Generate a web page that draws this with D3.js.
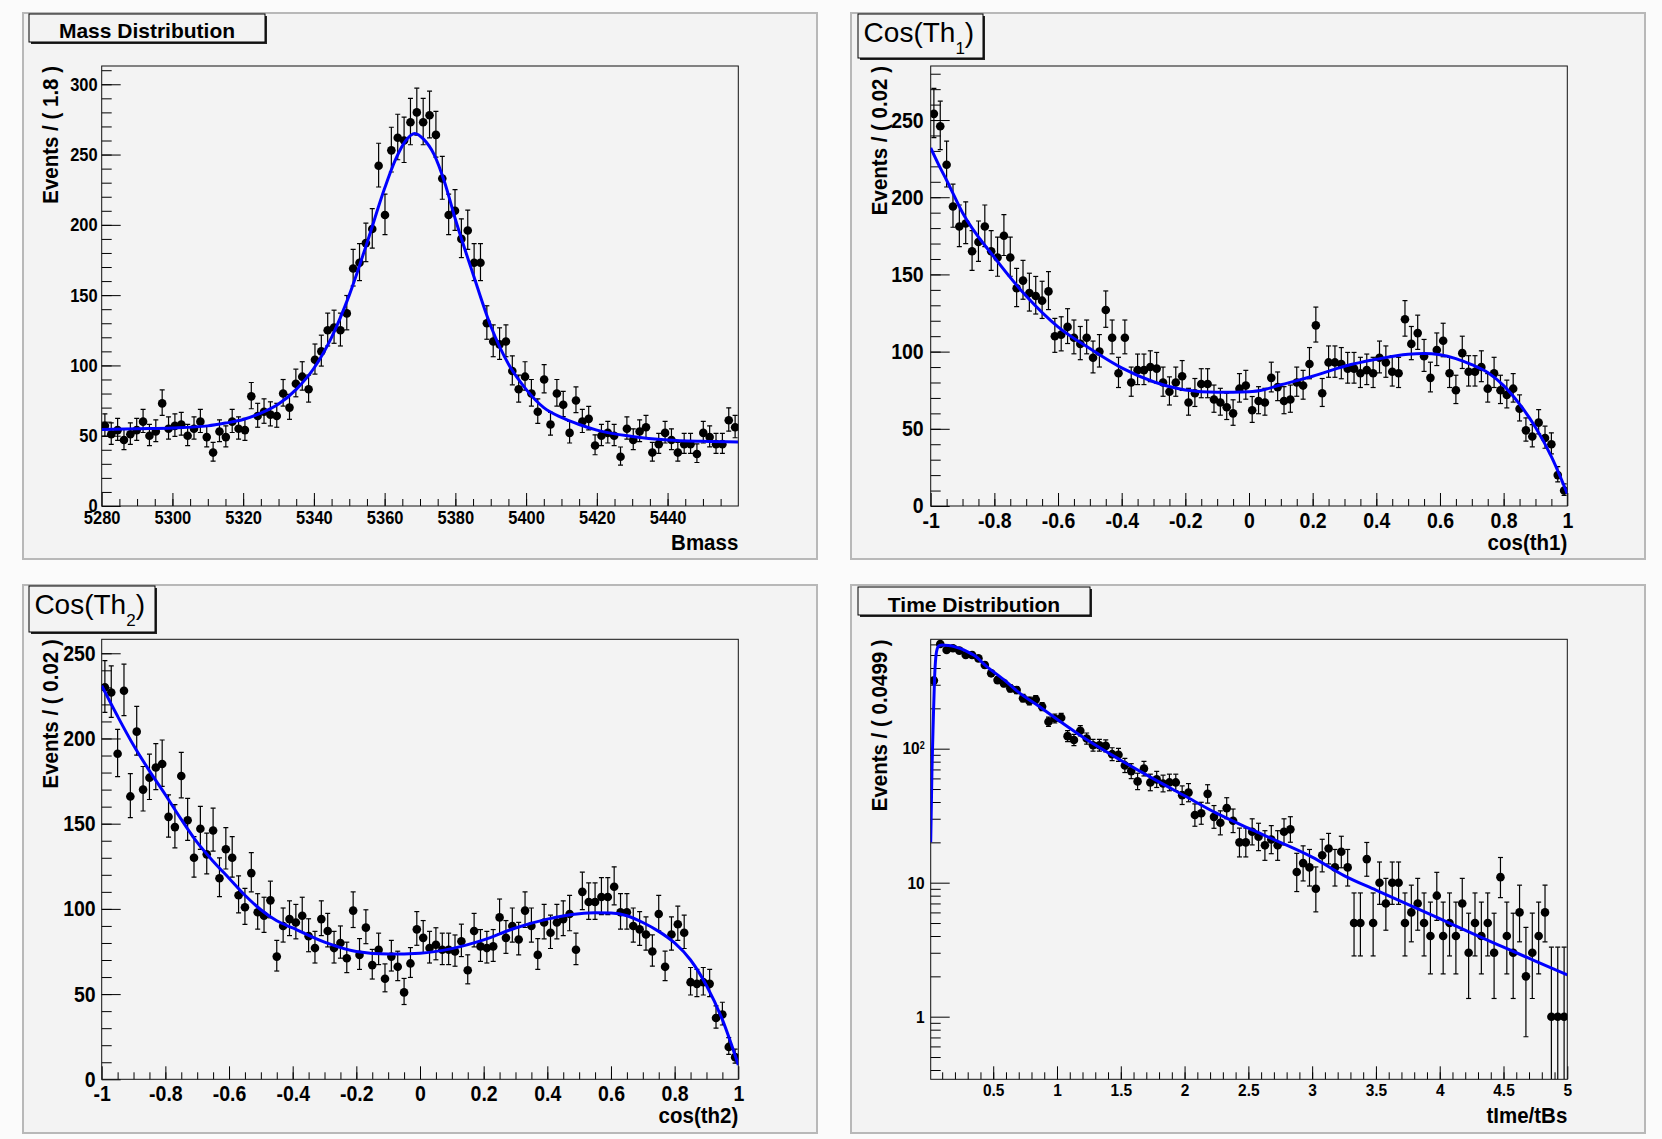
<!DOCTYPE html>
<html>
<head>
<meta charset="utf-8">
<script src="https://cdn.jsdelivr.net/npm/d3@7"></script>
<style>
  body { margin: 0; background: #fbfbfb; }
  svg { display: block; font-family: "Liberation Sans", Arial, Helvetica, sans-serif; }
</style>
</head>
<body>
<svg id="chart" width="1662" height="1139"></svg>
<script>
// --- Mass distribution (100 bins of 1.8) ---
const massBinStart = 5280, massBinWidth = 1.8;
const massCounts = [57,51,54,47,51,54,60,50,53,73,55,57,58,50,55,60,49,38,53,49,
  60,55,54,78,64,67,65,64,80,70,87,92,83,104,110,125,127,125,137,169,
  173,187,197,242,207,253,262,260,273,280,273,278,264,233,207,210,190,196,173,173,
  130,117,115,117,96,83,92,80,67,90,58,80,72,52,75,60,62,43,50,52,
  50,35,55,47,53,56,38,44,52,47,38,44,44,37,52,49,44,44,61,56];
const massFit = [[5280,54.5],[5290,55],[5300,55.5],[5310,57],[5315,59],[5320,61.5],[5325,66],
  [5330,72.5],[5335,83],[5340,98],[5345,120],[5350,150],[5355,187],[5360,226],[5363,246],
  [5366,260],[5368.5,265],[5371,261],[5374,250],[5377,230],[5380,204],[5385,165],[5390,128],
  [5395,101],[5400,83],[5405,70],[5410,63],[5415,58],[5420,54],[5430,49.5],[5440,47],
  [5450,46],[5460,45.5]];
const massXTicks = [5280,5300,5320,5340,5360,5380,5400,5420,5440];
const massYTicks = [0,50,100,150,200,250,300];

// --- cos(th1) (100 bins of 0.02) ---
const cosBinStart = -1, cosBinWidth = 0.02;
const cos1Counts = [254,246,221,194,181,183,165,171,181,165,161,175,161,141,146,138,136,133,139,110,
  111,116,109,105,109,96,100,127,109,86,109,80,88,88,90,89,80,74,80,84,
  67,73,79,79,69,67,64,60,76,78,62,68,67,83,77,68,69,80,78,92,
  117,73,93,93,92,89,89,86,88,86,96,93,87,86,121,105,112,97,83,101,
  107,86,75,99,87,87,90,76,86,75,72,76,63,49,45,54,44,40,20,10];
const cos1Fit = [[-1,232],[-0.97,219],[-0.95,211],[-0.9,190],[-0.8,161],[-0.7,136],[-0.6,116],
  [-0.5,102],[-0.4,89.5],[-0.3,80.5],[-0.2,75.2],[-0.1,73.6],[0,74],[0.05,75.5],[0.1,78.5],
  [0.15,81.2],[0.2,84],[0.3,90.5],[0.4,95],[0.5,98.3],[0.55,98.8],[0.6,98],[0.65,95.5],
  [0.7,91.5],[0.75,86.5],[0.8,78],[0.85,66],[0.9,51],[0.95,32],[1,8]];

// --- cos(th2) ---
const cos2Counts = [230,227,191,228,166,204,170,177,183,185,154,148,178,152,130,147,132,146,118,135,
  130,108,101,121,98,96,105,72,90,94,92,96,84,77,94,87,77,80,71,99,
  73,89,67,76,59,72,66,51,68,88,83,77,79,76,76,75,81,64,87,78,
  77,78,95,83,90,82,99,90,73,92,86,92,94,97,76,110,104,104,107,107,
  113,98,98,90,88,85,75,97,66,85,91,86,57,56,57,56,36,38,19,13];
const cos2Fit = [[-1,231],[-0.95,213],[-0.9,196],[-0.85,181],[-0.8,167],[-0.75,152.5],[-0.7,139],
  [-0.65,128],[-0.6,118],[-0.55,108],[-0.5,99.5],[-0.45,93],[-0.4,88.8],[-0.3,80.5],[-0.2,75],
  [-0.1,73.5],[0,74],[0.1,76.7],[0.2,81.8],[0.3,88.8],[0.4,94],[0.5,97.2],[0.55,97.8],
  [0.6,97.6],[0.65,96],[0.7,92],[0.75,86.8],[0.8,80],[0.85,70],[0.9,55],[0.95,35],[1,8.4]];
const cosXTicks = [-1,-0.8,-0.6,-0.4,-0.2,0,0.2,0.4,0.6,0.8,1];
const cosYTicks = [0,50,100,150,200,250];

// --- time distribution (100 bins of 0.0499) ---
const timeBinStart = 0.01, timeBinWidth = 0.0499;
const timeCounts = [322,604,545,561,539,500,500,472,421,365,325,307,282,274,238,227,233,206,159,168,
  170,124,116,136,119,106,106,105,91,90,75,68,57,71,56,59,55,56,56,45,
  47,32,33,46,31,28,36,29,20,20,24,22,19,21,19,24,25,12,14,13,
  9,16,18,13,17,13,5,5,15,5,10,7,10,10,5,6,7,5,4,8,
  4,5,4,7,3,5,4,5,3,11,4,3,6,2,3,4,6,1,1,1];
const timeFit = [[0.01,20],[0.02,70],[0.03,160],[0.04,330],[0.05,480],[0.065,570],[0.08,590],
  [0.1,595],[0.15,588],[0.2,575],[0.25,555],[0.3,528],[0.35,497],[0.45,410],[0.6,318],
  [0.7,263],[0.85,210],[1,166],[1.25,114],[1.5,82],[1.75,60],[2,44.5],[2.25,33],[2.5,25.5],
  [2.75,20],[3,15.5],[3.25,11.3],[3.5,8.8],[3.75,6.9],[4,5.4],[4.25,4.2],[4.5,3.3],
  [4.75,2.6],[5,2.05]];
const timeXTicks = [0.5,1,1.5,2,2.5,3,3.5,4,4.5,5];
const timeYTicks = [1,10,100];

// --- Poisson 68% interval (as RooFit draws data errors) ---
function poissonCdf(k, mu) {
    if (k < 0) return 0;
    let term = Math.exp(-mu), sum = term;
    for (let i = 1; i <= k; i++) { term *= mu / i; sum += term; }
    return sum;
}
function poissonInterval(n) {
    if (n > 150) { const s = Math.sqrt(n + 0.25); return [n + 0.5 - s, n + 0.5 + s]; }
    const a = 0.158655;
    const solve = (k, target) => {
        let lo = 0, hi = n + 10 * Math.sqrt(n + 1) + 10;
        for (let it = 0; it < 60; it++) {
            const m = (lo + hi) / 2;
            if (poissonCdf(k, m) > target) lo = m; else hi = m;
        }
        return (lo + hi) / 2;
    };
    return [n === 0 ? 0 : solve(n - 1, 1 - a), solve(n, a)];
}

const svg = d3.select("#chart");
const padFill = "#f3f3f3";
const stretch = 1.12; // ROOT glyphs are taller than Liberation's

// --- pads ---
const pads = [[23,13,794,546],[851,13,794,546],[23,585,794,548],[851,585,794,548]];
svg.selectAll(".pad").data(pads).join("rect")
    .attr("class", "pad")
    .attr("x", d => d[0]).attr("y", d => d[1])
    .attr("width", d => d[2]).attr("height", d => d[3])
    .attr("fill", padFill).attr("stroke", "#b8b8b8").attr("stroke-width", 2);

const panels = [
    { frame: [101.7, 66, 738.3, 506], xDomain: [5280, 5460], yDomain: [0, 313], log: false,
      binStart: massBinStart, binWidth: massBinWidth, counts: massCounts, fit: massFit,
      xMajor: massXTicks, xMinor: d3.range(5285, 5460, 5), yMajor: massYTicks, yMinor: d3.range(10, 313, 10),
      yTitle: "Events / ( 1.8 )", xTitle: "Bmass", font: 16.5, xPad: 4.6, yPad: 4 },
    { frame: [930.7, 66, 1567.3, 506], xDomain: [-1, 1], yDomain: [0, 285], log: false,
      binStart: cosBinStart, binWidth: cosBinWidth, counts: cos1Counts, fit: cos1Fit,
      xMajor: cosXTicks, xMinor: d3.range(-0.95, 1, 0.05), yMajor: cosYTicks, yMinor: d3.range(10, 285, 10),
      yTitle: "Events / ( 0.02 )", xTitle: "cos(th1)", font: 19.5, xPad: 5.8, yPad: 7 },
    { frame: [101.7, 639.3, 738.3, 1079.3], xDomain: [-1, 1], yDomain: [0, 258.2], log: false,
      binStart: cosBinStart, binWidth: cosBinWidth, counts: cos2Counts, fit: cos2Fit,
      xMajor: cosXTicks, xMinor: d3.range(-0.95, 1, 0.05), yMajor: cosYTicks, yMinor: d3.range(10, 258, 10),
      yTitle: "Events / ( 0.02 )", xTitle: "cos(th2)", font: 19.5, xPad: 5.1, yPad: 6 },
    { frame: [930.7, 639.3, 1567.3, 1079.3], xDomain: [0.01, 5.0], yDomain: [0.341, 655], log: true,
      binStart: timeBinStart, binWidth: timeBinWidth, counts: timeCounts, fit: timeFit,
      xMajor: timeXTicks, xMinor: d3.range(0.1, 5, 0.1),
      yMajor: timeYTicks, yMinor: [0.4,0.5,0.6,0.7,0.8,0.9,2,3,4,5,6,7,8,9,20,30,40,50,60,70,80,90,200,300,400,500,600],
      yTitle: "Events / ( 0.0499 )", xTitle: "tIme/tBs", font: 15.5, xPad: 3.7, yPad: 6 }
];

panels.forEach((p, pi) => {
    const [fx0, fy0, fx1, fy1] = p.frame;
    const x = d3.scaleLinear().domain(p.xDomain).range([fx0, fx1]);
    const y = (p.log ? d3.scaleLog() : d3.scaleLinear()).domain(p.yDomain).range([fy1, fy0]);
    const g = svg.append("g");

    // clip for marks
    const clipId = "clip" + pi;
    svg.append("clipPath").attr("id", clipId).append("rect")
        .attr("x", fx0).attr("y", fy0).attr("width", fx1 - fx0).attr("height", fy1 - fy0);

    // --- axes (ticks inside the frame, ROOT style) ---
    const styleAxis = (sel) => {
        sel.select(".domain").remove();
        sel.selectAll("line").attr("stroke", "#000");
        sel.attr("font-family", null).attr("font-size", p.font).attr("font-weight", "bold");
        sel.selectAll("text").attr("fill", "#000").attr("transform", `scale(1,${stretch})`);
    };
    g.append("g").attr("transform", `translate(0,${fy1})`)
        .call(d3.axisBottom(x).tickValues(p.xMinor).tickSize(-7).tickFormat(""))
        .call(styleAxis);
    g.append("g").attr("transform", `translate(0,${fy1})`)
        .call(d3.axisBottom(x).tickValues(p.xMajor).tickSize(-13).tickPadding(p.xPad).tickFormat(d => String(d)))
        .call(styleAxis);
    g.append("g").attr("transform", `translate(${fx0},0)`)
        .call(d3.axisLeft(y).tickValues(p.yMinor).tickSize(-10).tickFormat(""))
        .call(styleAxis);
    g.append("g").attr("transform", `translate(${fx0},0)`)
        .call(d3.axisLeft(y).tickValues(p.yMajor).tickSize(-19).tickPadding(p.yPad)
            .tickFormat(d => (p.log && d === 100) ? "" : String(d)))
        .call(styleAxis);
    if (p.log) {
        const t = g.append("text")
            .attr("transform", `translate(${fx0 - p.yPad},${y(100)}) scale(1,${stretch})`)
            .attr("dy", "0.32em")
            .attr("text-anchor", "end").attr("font-weight", "bold").attr("font-size", p.font);
        t.append("tspan").text("10");
        t.append("tspan").attr("dy", "-0.55em").attr("font-size", 9).text("2");
    }

    // frame
    g.append("rect").attr("x", fx0).attr("y", fy0).attr("width", fx1 - fx0).attr("height", fy1 - fy0)
        .attr("fill", "none").attr("stroke", "#111").attr("stroke-width", 1);

    // axis titles
    g.append("text")
        .attr("transform", `translate(${fx0 - 44},${fy0}) rotate(-90) scale(1,${stretch})`)
        .attr("text-anchor", "end").attr("font-weight", "bold").attr("font-size", 20.5)
        .text(p.yTitle);
    g.append("text")
        .attr("transform", `translate(${fx1},${fy1 + 44}) scale(1,${stretch})`)
        .attr("text-anchor", "end").attr("font-weight", "bold").attr("font-size", 20.5)
        .text(p.xTitle);

    // --- data points with Poisson error bars ---
    const pts = p.counts.map((c, i) => {
        const [lo, hi] = poissonInterval(c);
        return { x: p.binStart + (i + 0.5) * p.binWidth, c, lo, hi };
    });
    const marks = g.append("g").attr("clip-path", `url(#${clipId})`);
    const yMin = p.yDomain[0];
    marks.selectAll(".err").data(pts).join("line")
        .attr("class", "err")
        .attr("x1", d => x(d.x)).attr("x2", d => x(d.x))
        .attr("y1", d => y(Math.max(d.lo, yMin))).attr("y2", d => y(d.hi))
        .attr("stroke", "#000").attr("stroke-width", 1.2);
    marks.selectAll(".capHi").data(pts).join("line")
        .attr("class", "capHi")
        .attr("x1", d => x(d.x) - 2.5).attr("x2", d => x(d.x) + 2.5)
        .attr("y1", d => y(d.hi)).attr("y2", d => y(d.hi))
        .attr("stroke", "#000").attr("stroke-width", 1.2);
    marks.selectAll(".capLo").data(pts.filter(d => d.lo > yMin)).join("line")
        .attr("class", "capLo")
        .attr("x1", d => x(d.x) - 2.5).attr("x2", d => x(d.x) + 2.5)
        .attr("y1", d => y(d.lo)).attr("y2", d => y(d.lo))
        .attr("stroke", "#000").attr("stroke-width", 1.2);
    marks.selectAll(".pt").data(pts).join("circle")
        .attr("class", "pt")
        .attr("cx", d => x(d.x)).attr("cy", d => y(d.c)).attr("r", 4.3)
        .attr("fill", "#000");

    // --- fit curve ---
    const line = d3.line().x(d => x(d[0])).y(d => y(d[1])).curve(d3.curveMonotoneX);
    marks.append("path").datum(p.fit)
        .attr("d", line)
        .attr("fill", "none").attr("stroke", "#0000ff").attr("stroke-width", 3);
});

// --- title boxes ---
function titleBox(bx, by, bw, bh) {
    svg.append("rect").attr("x", bx + 2).attr("y", by + 2).attr("width", bw).attr("height", bh).attr("fill", "#222");
    svg.append("rect").attr("x", bx).attr("y", by).attr("width", bw).attr("height", bh)
        .attr("fill", padFill).attr("stroke", "#000").attr("stroke-width", 1);
}
titleBox(29, 14, 236, 28);
svg.append("text").attr("x", 147).attr("y", 38).attr("text-anchor", "middle")
    .attr("font-weight", "bold").attr("font-size", 21).text("Mass Distribution");

titleBox(858, 587, 232, 28);
svg.append("text").attr("x", 974).attr("y", 611.5).attr("text-anchor", "middle")
    .attr("font-weight", "bold").attr("font-size", 21).text("Time Distribution");

function cosTitle(bx, by, bw, bh, tx, ty, sub) {
    titleBox(bx, by, bw, bh);
    const t = svg.append("text").attr("x", tx).attr("y", ty).attr("font-size", 28);
    t.append("tspan").text("Cos(Th");
    t.append("tspan").attr("dy", 12).attr("font-size", 17).text(sub);
    t.append("tspan").attr("dy", -12).text(")");
}
cosTitle(858, 14, 125, 44, 863.6, 42, "1");
cosTitle(29, 586, 126, 46, 34.4, 614, "2");
</script>
</body>
</html>
